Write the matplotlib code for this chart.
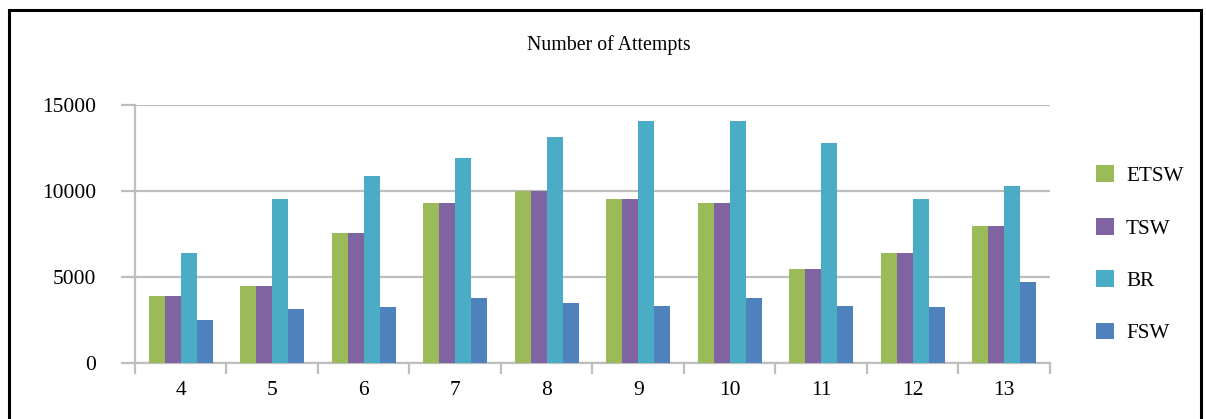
import numpy as np
import matplotlib
matplotlib.use("Agg")
import matplotlib.pyplot as plt
from matplotlib.patches import Rectangle

# attempts per problem size, four methods
sizes = ["4", "5", "6", "7", "8", "9", "10", "11", "12", "13"]
etsw = [3900, 4450, 7520, 9270, 10000, 9520, 9270, 5460, 6380, 7950]
tsw = [3900, 4450, 7520, 9270, 10000, 9520, 9270, 5460, 6380, 7950]
br = [6360, 9500, 10880, 11930, 13150, 14090, 14090, 12770, 9520, 10280]
fsw = [2480, 3130, 3220, 3740, 3480, 3290, 3740, 3290, 3220, 4710]

series = [("ETSW", etsw, "#9BBB59"), ("TSW", tsw, "#8064A2"),
          ("BR", br, "#4BACC6"), ("FSW", fsw, "#4F81BD")]

plt.rcParams["font.family"] = ["Liberation Serif", "DejaVu Serif"]

fig = plt.figure(figsize=(12.06, 4.19), dpi=100)
ax = fig.add_axes([0.1119, 0.1348, 0.7587, 0.6146])

x = np.arange(len(sizes))
w = 0.175
for i, (name, vals, col) in enumerate(series):
    ax.bar(x + (i - 1.5) * w, vals, width=w, color=col, label=name, zorder=3)

ax.set_xlim(-0.5, len(sizes) - 0.5)
ax.set_ylim(0, 15000)
ax.set_yticks([0, 5000, 10000, 15000])
ax.set_xticks(x)
ax.set_xticklabels(sizes)
ax.set_xticks(np.arange(-0.5, len(sizes)), minor=True)

ax.grid(axis="y", color="#BEBEBE", lw=1.6, zorder=0)
for s in ["top", "right"]:
    ax.spines[s].set_visible(False)
for s in ["left", "bottom"]:
    ax.spines[s].set_color("#BEBEBE")
    ax.spines[s].set_linewidth(1.6)

ax.tick_params(axis="y", length=10, width=1.6, color="#BEBEBE", pad=18, labelsize=15.5)
ax.tick_params(axis="x", which="major", length=0, pad=13, labelsize=15.5)
ax.tick_params(axis="x", which="minor", length=8, width=1.6, color="#BEBEBE")

fig.text(0.505, 0.893, "Number of Attempts", ha="center", va="center", fontsize=14.3)

ax.legend(loc="center left", bbox_to_anchor=(1.03, 0.42), frameon=False,
          fontsize=15.2, handlelength=0.85, handleheight=0.85, labelspacing=1.5,
          handletextpad=0.55)

# frame around the whole figure
fig.patches.append(Rectangle((0.0075, -0.1), 0.988, 1.075, transform=fig.transFigure,
                             fill=False, edgecolor="black", lw=2.2))

fig.savefig("out.png", dpi=100)
